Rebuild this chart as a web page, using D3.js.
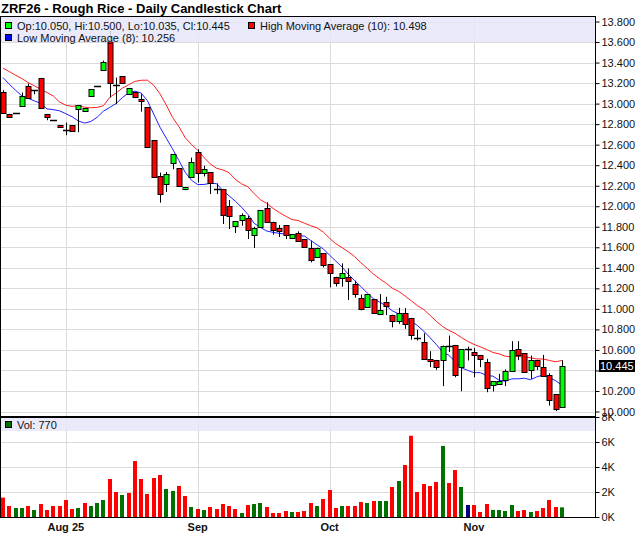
<!DOCTYPE html>
<html>
<head>
<meta charset="utf-8">
<script src="https://cdn.jsdelivr.net/npm/d3@7"></script>
<style>
	body { margin: 0; background: #fff; }
	svg { display: block; font-family: 'Liberation Sans', Arial, sans-serif; }
</style>
</head>
<body>
<svg id="viz-rice" width="640" height="536"></svg>
<script>

// Daily bars, Jul 18 2025 to Nov 21 2025 (index 0 .. 89).
var opens = [
	13.114, 12.896, 12.913, 12.974, 13.173, 13.130, 13.247, 12.896, 12.844, 12.789,
	12.744, 12.789, 12.945, 12.929, 13.072, 13.169, 13.325, 13.620, 13.186, 13.267,
	13.091, 13.117, 13.043, 12.965, 12.646, 12.292, 12.214, 12.416, 12.370, 12.165,
	12.292, 12.529, 12.324, 12.330, 12.168, 12.168, 12.002, 11.807, 11.866, 11.885,
	11.720, 11.801, 11.979, 11.850, 11.788, 11.817, 11.690, 11.739, 11.677, 11.596,
	11.505, 11.544, 11.437, 11.313, 11.294, 11.313, 11.242, 11.102, 11.014, 11.095,
	10.950, 11.070, 10.943, 10.887, 10.961, 10.913, 10.714, 10.679, 10.513, 10.503,
	10.503, 10.635, 10.649, 10.425, 10.605, 10.584, 10.552, 10.487, 10.253, 10.269,
	10.308, 10.399, 10.611, 10.568, 10.399, 10.497, 10.438, 10.351, 10.172, 10.050
];

var highs = [
	13.130, 12.900, 12.913, 13.108, 13.195, 13.130, 13.250, 12.896, 12.844, 12.789,
	12.815, 12.789, 12.984, 12.955, 13.140, 13.169, 13.419, 13.711, 13.254, 13.267,
	13.150, 13.117, 13.091, 12.965, 12.646, 12.328, 12.334, 12.507, 12.370, 12.185,
	12.474, 12.555, 12.395, 12.330, 12.223, 12.168, 12.061, 11.856, 11.930, 11.905,
	11.800, 11.963, 12.038, 11.850, 11.817, 11.817, 11.725, 11.755, 11.677, 11.664,
	11.596, 11.544, 11.437, 11.313, 11.443, 11.395, 11.275, 11.140, 11.144, 11.095,
	11.144, 11.118, 10.943, 11.010, 11.007, 10.913, 10.796, 10.763, 10.588, 10.503,
	10.643, 10.740, 10.649, 10.605, 10.633, 10.620, 10.552, 10.513, 10.295, 10.367,
	10.410, 10.685, 10.685, 10.568, 10.545, 10.497, 10.552, 10.373, 10.161, 10.500
];

var lows = [
	12.900, 12.865, 12.913, 12.974, 13.052, 13.091, 12.952, 12.838, 12.844, 12.773,
	12.692, 12.735, 12.721, 12.929, 13.072, 13.169, 13.325, 13.059, 12.994, 13.195,
	13.091, 13.069, 12.922, 12.571, 12.282, 12.035, 12.139, 12.360, 12.195, 12.156,
	12.292, 12.230, 12.290, 12.119, 12.119, 11.827, 11.778, 11.739, 11.810, 11.680,
	11.593, 11.801, 11.840, 11.723, 11.700, 11.680, 11.680, 11.658, 11.596, 11.453,
	11.505, 11.404, 11.209, 11.219, 11.216, 11.086, 11.110, 10.985, 11.014, 10.950,
	10.940, 10.940, 10.820, 10.854, 10.805, 10.700, 10.692, 10.513, 10.432, 10.406,
	10.247, 10.580, 10.334, 10.198, 10.497, 10.334, 10.432, 10.188, 10.195, 10.260,
	10.247, 10.390, 10.500, 10.383, 10.318, 10.404, 10.347, 10.058, 10.003, 10.035
];

var closes = [
	12.913, 12.870, 12.913, 13.075, 13.052, 13.130, 12.952, 12.870, 12.844, 12.773,
	12.744, 12.735, 12.984, 12.955, 13.140, 13.169, 13.406, 13.205, 13.186, 13.195,
	13.150, 13.069, 13.023, 12.571, 12.282, 12.117, 12.312, 12.507, 12.195, 12.185,
	12.435, 12.321, 12.360, 12.223, 12.168, 11.918, 11.901, 11.856, 11.911, 11.768,
	11.785, 11.963, 11.840, 11.768, 11.755, 11.715, 11.725, 11.658, 11.596, 11.476,
	11.596, 11.430, 11.349, 11.252, 11.346, 11.274, 11.144, 10.998, 11.144, 10.959,
	10.989, 11.027, 10.881, 10.961, 10.854, 10.750, 10.714, 10.513, 10.497, 10.432,
	10.643, 10.635, 10.357, 10.605, 10.605, 10.552, 10.513, 10.230, 10.295, 10.302,
	10.399, 10.601, 10.552, 10.383, 10.497, 10.438, 10.347, 10.107, 10.029, 10.445
];

var volumes = [
	1550, 880, 720, 720, 880, 560, 1040, 560, 880, 880,
	1360, 640, 720, 1120, 880, 1120, 1360, 3040, 2000, 1760,
	1920, 4480, 3040, 1840, 3120, 3360, 2240, 2080, 2480, 1680,
	800, 640, 560, 800, 640, 1040, 880, 640, 320, 960,
	1040, 1120, 800, 320, 320, 480, 400, 400, 480, 1120,
	880, 1440, 2160, 720, 880, 880, 880, 1200, 1120, 1280,
	1280, 1280, 2400, 2880, 4160, 6500, 2000, 2640, 2480, 2800,
	5680, 2720, 3760, 2400, 960, 960, 400, 1040, 560, 560,
	480, 960, 480, 560, 400, 480, 720, 1360, 800, 770
];

// Moving average values at the left edge (their history is off-screen).
var highMaHead = [ 13.345, 13.312, 13.277, 13.244, 13.205, 13.173, 13.140, 13.108, 13.075 ];
var lowMaHead = [ 13.254, 13.189, 13.130, 13.075, 13.052, 13.026, 13.004 ];

var monthIndex = [ 10, 31, 52, 75 ];
var monthLabels = [ 'Aug 25', 'Sep', 'Oct', 'Nov' ];

var priceTicks = [ 10.0, 10.2, 10.4, 10.6, 10.8, 11.0, 11.2, 11.4, 11.6, 11.8, 12.0, 12.2, 12.4, 12.6, 12.8, 13.0, 13.2, 13.4, 13.6, 13.8 ];
var volumeTicks = [ 0, 2000, 4000, 6000, 8000 ];
var volumeTickLabels = [ '0K', '2K', '4K', '6K', '8K' ];


window.riceViz = {



	/**
	 * @private
	 * Frame of the two panels, in pixels.
	 */
	_frame: {
		left: 0,
		right: 595,
		top: 16,
		split: 417,
		bottom: 517
	},



	/**
	 * @private
	 */
	_colors: {
		up: '#00ff00',
		down: '#ff0000',
		volUp: '#007000',
		volDown: '#ff0000',
		volFlat: '#000080',
		grid: '#dadada',
		band: '#e6e6fa'
	},



	/**
	 * @private
	 * @function _bindSvg
	 */
	_bindSvg: function () {

		this._svg = d3.select( '#viz-rice' );

		var f = this._frame;

		this._x = d3.scaleLinear().domain( [ 0, 89 ] ).range( [ 3, 561.9 ] );
		this._y = d3.scaleLinear().domain( [ 10.0, 13.8 ] ).range( [ 411.5, 21.5 ] );
		this._yVol = d3.scaleLinear().domain( [ 0, 8000 ] ).range( [ f.bottom, f.split ] );

	},



	/**
	 * @private
	 * @function _setMovingAverages
	 * Simple averages of highs (10) and lows (8).
	 */
	_setMovingAverages: function () {

		var average = function ( values, period, head ) {
			return values.map( function ( v, i ) {
				if ( i < period - 1 ) {
					return head[i];
				}
				return d3.mean( values.slice( i - period + 1, i + 1 ) );
			} );
		};

		this._highMa = average( highs, 10, highMaHead );
		this._lowMa = average( lows, 8, lowMaHead );

	},



	/**
	 * @private
	 * @function _createGrid
	 */
	_createGrid: function () {

		var f = this._frame;
		var g = this._svg.append( 'g' ).attr( 'class', 'grid' );

		g.selectAll( 'line.h-price' )
			.data( priceTicks )
			.enter()
			.append( 'line' )
			.attr( 'x1', f.left )
			.attr( 'x2', f.right )
			.attr( 'y1', function ( d ) { return Math.round( this._y( d ) ) + 0.5; }.bind( this ) )
			.attr( 'y2', function ( d ) { return Math.round( this._y( d ) ) + 0.5; }.bind( this ) )
			.attr( 'stroke', this._colors.grid );

		g.selectAll( 'line.h-vol' )
			.data( volumeTicks.slice( 1, 4 ) )
			.enter()
			.append( 'line' )
			.attr( 'x1', f.left )
			.attr( 'x2', f.right )
			.attr( 'y1', function ( d ) { return Math.round( this._yVol( d ) ) + 0.5; }.bind( this ) )
			.attr( 'y2', function ( d ) { return Math.round( this._yVol( d ) ) + 0.5; }.bind( this ) )
			.attr( 'stroke', this._colors.grid );

		g.selectAll( 'line.v' )
			.data( monthIndex )
			.enter()
			.append( 'line' )
			.attr( 'x1', function ( d ) { return Math.round( this._x( d ) ) + 0.5; }.bind( this ) )
			.attr( 'x2', function ( d ) { return Math.round( this._x( d ) ) + 0.5; }.bind( this ) )
			.attr( 'y1', f.top )
			.attr( 'y2', f.bottom )
			.attr( 'stroke', this._colors.grid );

	},



	/**
	 * @private
	 * @function _createCandles
	 */
	_createCandles: function () {

		var x = this._x;
		var y = this._y;
		var colors = this._colors;
		var px = function ( i ) { return Math.round( x( i ) ) + 0.5; };

		var candles = this._svg.append( 'g' ).attr( 'class', 'candles' )
			.selectAll( 'g' )
			.data( d3.range( opens.length ) )
			.enter()
			.append( 'g' );

		candles.append( 'line' )
			.attr( 'x1', px )
			.attr( 'x2', px )
			.attr( 'y1', function ( i ) { return y( highs[i] ); } )
			.attr( 'y2', function ( i ) { return y( lows[i] ); } )
			.attr( 'stroke', '#000' );

		// Dojis are a plain black dash.
		candles.filter( function ( i ) { return opens[i] === closes[i]; } )
			.append( 'line' )
			.attr( 'x1', function ( i ) { return px( i ) - 3.5; } )
			.attr( 'x2', function ( i ) { return px( i ) + 3.5; } )
			.attr( 'y1', function ( i ) { return Math.round( y( closes[i] ) ) + 0.5; } )
			.attr( 'y2', function ( i ) { return Math.round( y( closes[i] ) ) + 0.5; } )
			.attr( 'stroke', '#000' )
			.attr( 'stroke-width', 1.5 );

		candles.filter( function ( i ) { return opens[i] !== closes[i]; } )
			.append( 'rect' )
			.attr( 'x', function ( i ) { return px( i ) - 2.5; } )
			.attr( 'width', 5 )
			.attr( 'y', function ( i ) { return Math.round( y( Math.max( opens[i], closes[i] ) ) ) + 0.5; } )
			.attr( 'height', function ( i ) {
				return Math.max( 1, Math.round( Math.abs( y( opens[i] ) - y( closes[i] ) ) ) );
			} )
			.attr( 'fill', function ( i ) { return closes[i] > opens[i] ? colors.up : colors.down; } )
			.attr( 'stroke', '#000' );

	},



	/**
	 * @private
	 * @function _createAverages
	 */
	_createAverages: function () {

		var line = d3.line()
			.x( function ( d, i ) { return this._x( i ); }.bind( this ) )
			.y( function ( d ) { return this._y( d ); }.bind( this ) );

		this._svg.append( 'path' )
			.attr( 'd', line( this._highMa ) )
			.attr( 'fill', 'none' )
			.attr( 'stroke', '#ff2020' )
			.attr( 'stroke-width', 1 );

		this._svg.append( 'path' )
			.attr( 'd', line( this._lowMa ) )
			.attr( 'fill', 'none' )
			.attr( 'stroke', '#2020ff' )
			.attr( 'stroke-width', 1 );

	},



	/**
	 * @private
	 * @function _createVolume
	 * Bars take their colour from the change against the previous close.
	 */
	_createVolume: function () {

		var colors = this._colors;
		var yVol = this._yVol;

		this._svg.append( 'g' ).attr( 'class', 'volume' )
			.selectAll( 'rect' )
			.data( volumes )
			.enter()
			.append( 'rect' )
			.attr( 'x', function ( d, i ) { return Math.round( this._x( i ) ) - 2; }.bind( this ) )
			.attr( 'width', 4 )
			.attr( 'y', function ( d ) { return yVol( d ); } )
			.attr( 'height', function ( d ) { return yVol( 0 ) - yVol( d ); } )
			.attr( 'fill', function ( d, i ) {
				var prev = i > 0 ? closes[i - 1] : opens[i];
				if ( closes[i] > prev ) return colors.volUp;
				if ( closes[i] < prev ) return colors.volDown;
				return colors.volFlat;
			} );

	},



	/**
	 * @private
	 * @function _createLegends
	 */
	_createLegends: function () {

		var f = this._frame;
		var last = opens.length - 1;
		var svg = this._svg;

		svg.append( 'rect' )
			.attr( 'x', 1 ).attr( 'y', f.top + 1 )
			.attr( 'width', f.right - 1 ).attr( 'height', 25 )
			.attr( 'fill', this._colors.band ).attr( 'opacity', 0.85 );

		svg.append( 'rect' )
			.attr( 'x', 1 ).attr( 'y', f.split + 1 )
			.attr( 'width', f.right - 1 ).attr( 'height', 13 )
			.attr( 'fill', this._colors.band ).attr( 'opacity', 0.85 );

		var items = [
			{ x: 5, y: 22, color: '#00ff00', text: 'Op:' + opens[last].toFixed( 3 ) + ', Hi:' + highs[last].toFixed( 3 ) + ', Lo:' + lows[last].toFixed( 3 ) + ', Cl:' + closes[last].toFixed( 3 ) },
			{ x: 248, y: 22, color: '#ff0000', text: 'High Moving Average (10): ' + this._highMa[last].toFixed( 3 ) },
			{ x: 5, y: 34, color: '#0000ff', text: 'Low Moving Average (8): ' + this._lowMa[last].toFixed( 3 ) },
			{ x: 5, y: 421, color: '#007000', text: 'Vol: ' + volumes[last] }
		];

		var g = svg.selectAll( 'g.legend' )
			.data( items )
			.enter()
			.append( 'g' )
			.classed( 'legend', true )
			.attr( 'transform', function ( d ) { return 'translate(' + d.x + ',' + d.y + ')'; } );

		g.append( 'rect' )
			.attr( 'x', 0.5 ).attr( 'y', 0.5 )
			.attr( 'width', 6 ).attr( 'height', 6 )
			.attr( 'fill', function ( d ) { return d.color; } )
			.attr( 'stroke', '#000' );

		g.append( 'text' )
			.attr( 'x', 12 )
			.attr( 'y', 7.5 )
			.style( 'font-size', '11px' )
			.attr( 'fill', '#111' )
			.text( function ( d ) { return d.text; } );

	},



	/**
	 * @private
	 * @function _createAxes
	 */
	_createAxes: function () {

		var f = this._frame;
		var svg = this._svg;
		var last = closes[closes.length - 1];
		var y = this._y;

		// Price labels, the one under the last-price box left out.
		var priceAxis = d3.axisRight( y )
			.tickValues( priceTicks )
			.tickSize( 4 )
			.tickPadding( 2 )
			.tickFormat( function ( d ) {
				return Math.abs( y( d ) - y( last ) ) < 10 ? '' : d.toFixed( 3 );
			} );

		svg.append( 'g' )
			.attr( 'transform', 'translate(' + ( f.right + 0.5 ) + ',0)' )
			.call( priceAxis )
			.call( function ( g ) { g.select( '.domain' ).remove(); } );

		var volAxis = d3.axisRight( this._yVol )
			.tickValues( volumeTicks )
			.tickSize( 4 )
			.tickPadding( 2 )
			.tickFormat( function ( d, i ) { return volumeTickLabels[i]; } );

		svg.append( 'g' )
			.attr( 'transform', 'translate(' + ( f.right + 0.5 ) + ',0)' )
			.call( volAxis )
			.call( function ( g ) { g.select( '.domain' ).remove(); } );

		svg.selectAll( '.tick text' )
			.style( 'font-family', "'Liberation Sans', Arial, sans-serif" )
			.style( 'font-size', '11px' )
			.attr( 'fill', '#111' );

		// Last price box.
		var lp = svg.append( 'g' ).attr( 'transform', 'translate(599,' + Math.round( y( last ) ) + ')' );
		lp.append( 'rect' )
			.attr( 'x', 0 ).attr( 'y', -6 )
			.attr( 'width', 36 ).attr( 'height', 12 )
			.attr( 'fill', '#000' );
		lp.append( 'text' )
			.attr( 'x', 1 ).attr( 'y', 4 )
			.style( 'font-size', '11px' )
			.attr( 'fill', '#fff' )
			.text( last.toFixed( 3 ) );

		// Frame lines.
		var lines = [
			[ f.left + 0.5, f.top, f.left + 0.5, f.bottom ],
			[ f.left, f.top + 0.5, f.right, f.top + 0.5 ],
			[ f.right + 0.5, f.top, f.right + 0.5, f.bottom + 1 ],
			[ f.left, f.bottom + 0.5, f.right + 1, f.bottom + 0.5 ]
		];

		svg.selectAll( 'line.frame' )
			.data( lines )
			.enter()
			.append( 'line' )
			.attr( 'x1', function ( d ) { return d[0]; } )
			.attr( 'y1', function ( d ) { return d[1]; } )
			.attr( 'x2', function ( d ) { return d[2]; } )
			.attr( 'y2', function ( d ) { return d[3]; } )
			.attr( 'stroke', '#000' );

		svg.append( 'line' )
			.attr( 'x1', f.left ).attr( 'x2', f.right + 1 )
			.attr( 'y1', f.split ).attr( 'y2', f.split )
			.attr( 'stroke', '#000' )
			.attr( 'stroke-width', 2 );

		// Month labels.
		svg.selectAll( 'text.month' )
			.data( monthIndex )
			.enter()
			.append( 'text' )
			.attr( 'x', function ( d ) { return this._x( d ); }.bind( this ) )
			.attr( 'y', 531 )
			.attr( 'text-anchor', 'middle' )
			.style( 'font-size', '11px' )
			.style( 'font-weight', 'bold' )
			.attr( 'fill', '#111' )
			.text( function ( d, i ) { return monthLabels[i]; } );

		svg.append( 'text' )
			.attr( 'x', 1 )
			.attr( 'y', 13 )
			.style( 'font-size', '13px' )
			.style( 'font-weight', 'bold' )
			.attr( 'fill', '#000' )
			.text( 'ZRF26 - Rough Rice - Daily Candlestick Chart' );

	},



	/**
	 * @public
	 * @function on
	 */
	on: function () {
		this._bindSvg();
		this._setMovingAverages();
		this._createGrid();
		this._createVolume();
		this._createAverages();
		this._createCandles();
		this._createLegends();
		this._createAxes();
	}

};

window.riceViz.on();

</script>
</body>
</html>
